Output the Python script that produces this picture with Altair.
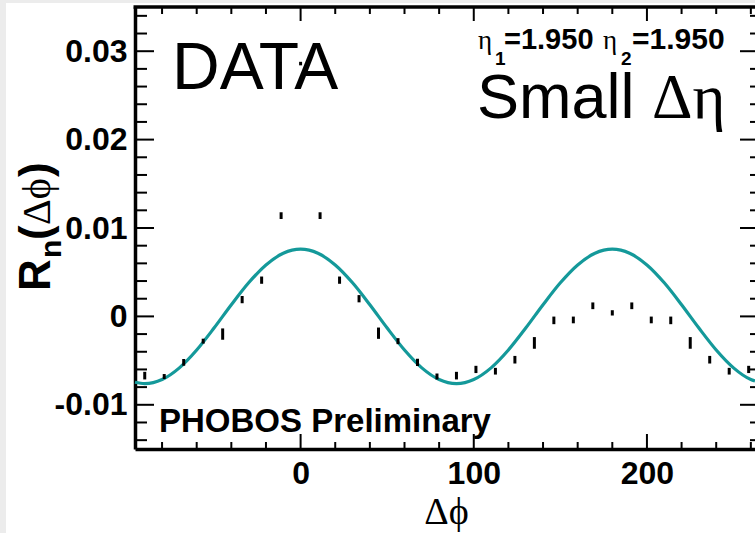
import altair as alt
import pandas as pd

# ---------------- data ----------------
dphi = [-90, -78.75, -67.5, -56.25, -45, -33.75, -22.5, -11.25, 0, 11.25, 22.5, 33.75,
        45, 56.25, 67.5, 78.75, 90, 101.25, 112.5, 123.75, 135, 146.25, 157.5, 168.75,
        180, 191.25, 202.5, 213.75, 225, 236.25, 247.5, 258.75]
rn = [-0.0067, -0.0068, -0.0052, -0.0028, -0.0020, 0.0019, 0.0041, 0.0114, 0.0286, 0.0114,
      0.0041, 0.0020, -0.0019, -0.0028, -0.0052, -0.0068, -0.0067, -0.0060, -0.0062, -0.0049,
      -0.0030, -0.00045, -0.0004, 0.0012, 0.0004, 0.0012, -0.0004, -0.00045, -0.0030, -0.0049,
      -0.0062, -0.0060]
err = [0.00043, 0.00028, 0.00038, 0.00028, 0.00064, 0.00041, 0.00041, 0.00038, 0.00020, 0.00038,
       0.00041, 0.00041, 0.00064, 0.00034, 0.00041, 0.00034, 0.00043, 0.00041, 0.00038, 0.00043,
       0.00066, 0.00043, 0.00038, 0.00038, 0.00030, 0.00038, 0.00038, 0.00043, 0.00066, 0.00043,
       0.00038, 0.00041]

fit_x = [-95.625, -90, -80, -70, -60, -50, -40, -30, -20, -10, 0, 10, 20, 30, 40, 50, 60, 70,
         80, 90, 100, 110, 120, 130, 140, 150, 160, 170, 180, 190, 200, 210, 220, 230, 240,
         250, 260, 262.4]
fit_y = [-0.00745, -0.0076, -0.00714, -0.00582, -0.0038, -0.00132, 0.00132, 0.0038, 0.00582,
         0.00714, 0.0076, 0.00714, 0.00582, 0.0038, 0.00132, -0.00132, -0.0038, -0.00582,
         -0.00714, -0.0076, -0.00714, -0.00582, -0.0038, -0.00132, 0.00132, 0.0038, 0.00582,
         0.00714, 0.0076, 0.00714, 0.00582, 0.0038, 0.00132, -0.00132, -0.0038, -0.00582,
         -0.00714, -0.00731]

x_major = [0, 100, 200]
x_minor = [-80, -60, -40, -20, 20, 40, 60, 80, 120, 140, 160, 180, 220, 240, 260]
y_major = [-0.01, 0.0, 0.01, 0.02, 0.03]
y_minor = [-0.014, -0.012, -0.008, -0.006, -0.004, -0.002, 0.002, 0.004, 0.006, 0.008,
           0.012, 0.014, 0.016, 0.018, 0.022, 0.024, 0.026, 0.028, 0.032, 0.034]

X_DOMAIN = [-95.625, 262.4]
Y_DOMAIN = [-0.015, 0.035]
W, H = 620, 442

# ---------------- tables ----------------
pts = pd.DataFrame({"dphi": dphi, "rn": rn, "err": err})
pts["lo"] = pts["rn"] - pts["err"]
pts["hi"] = pts["rn"] + pts["err"]
fit = pd.DataFrame({"dphi": fit_x, "rn": fit_y})
xmaj = pd.DataFrame({"t": x_major})
xmin = pd.DataFrame({"t": x_minor})
ymaj = pd.DataFrame({"t": y_major})
ymin = pd.DataFrame({"t": y_minor})
one = pd.DataFrame({"k": [0]})  # single row for decorations

xscale = alt.Scale(domain=X_DOMAIN, nice=False, zero=False)
yscale = alt.Scale(domain=Y_DOMAIN, nice=False, zero=False)

xaxis = alt.Axis(values=x_major, labelFont="Liberation Sans", labelFontWeight="bold",
                 labelFontSize=32, labelColor="black", ticks=False, tickSize=0,
                 labelPadding=9, labelFlush=False, labelOverlap=False,
                 domainColor="black", domainWidth=3.5, grid=False,
                 title="Δϕ", titleFont="Liberation Serif", titleFontSize=38,
                 titleFontWeight="normal", titleColor="black",
                 titleBaseline="alphabetic", titleY=74, titleX=311)
yaxis = alt.Axis(values=y_major, labelFont="Liberation Sans", labelFontWeight="bold",
                 labelFontSize=32, labelColor="black", ticks=False, tickSize=0,
                 labelPadding=8, labelFlush=False, labelOverlap=False,
                 labelBaseline="middle",
                 labelExpr="abs(datum.value) < 1e-9 ? '0' : (datum.value < 0 ? '-' : '') + format(abs(datum.value), '.2f')",
                 domainColor="black", domainWidth=3.5, grid=False, title=None)


def X(f):
    return alt.X(f, type="quantitative", scale=xscale, axis=xaxis)


def Y(f):
    return alt.Y(f, type="quantitative", scale=yscale, axis=yaxis)


# ---------------- layers ----------------
fit_line = alt.Chart(fit).mark_line(color="#14999a", strokeWidth=3.2, interpolate="monotone").encode(
    x=X("dphi"), y=Y("rn"))

bars = alt.Chart(pts).mark_rule(color="black", strokeWidth=3, strokeCap="butt").encode(
    x=X("dphi"), y=Y("lo"), y2="hi")

# frame ticks (pointing inward)
yl_maj = alt.Chart(ymaj).mark_rule(color="black", strokeWidth=2).encode(
    y=Y("t"), x=alt.value(0), x2=alt.value(19))
yl_min = alt.Chart(ymin).mark_rule(color="black", strokeWidth=2).encode(
    y=Y("t"), x=alt.value(0), x2=alt.value(12))
yr_maj = alt.Chart(ymaj).mark_rule(color="black", strokeWidth=2).encode(
    y=Y("t"), x=alt.value(W - 15), x2=alt.value(W))
yr_min = alt.Chart(ymin).mark_rule(color="black", strokeWidth=2).encode(
    y=Y("t"), x=alt.value(W - 5), x2=alt.value(W))
xb_maj = alt.Chart(xmaj).mark_rule(color="black", strokeWidth=2).encode(
    x=X("t"), y=alt.value(H), y2=alt.value(H - 15))
xb_min = alt.Chart(xmin).mark_rule(color="black", strokeWidth=2).encode(
    x=X("t"), y=alt.value(H), y2=alt.value(H - 7))
xt_maj = alt.Chart(xmaj).mark_rule(color="black", strokeWidth=2).encode(
    x=X("t"), y=alt.value(0), y2=alt.value(14))
xt_min = alt.Chart(xmin).mark_rule(color="black", strokeWidth=2).encode(
    x=X("t"), y=alt.value(0), y2=alt.value(7))

top_frame = alt.Chart(one).mark_rule(color="black", strokeWidth=3.5).encode(
    x=alt.value(-1.5), x2=alt.value(W), y=alt.value(0))

# grey page edge
edge_left = alt.Chart(one).mark_rect(color="#ececec").encode(
    x=alt.value(-135), x2=alt.value(-129), y=alt.value(-7), y2=alt.value(526))
edge_top = alt.Chart(one).mark_rect(color="#ececec").encode(
    x=alt.value(-135), x2=alt.value(W), y=alt.value(-7), y2=alt.value(-4))


def txt(s, x, y, size, font="Liberation Sans", weight="normal", angle=0):
    kw = dict(text=s, font=font, fontSize=size, fontWeight=weight, color="black",
              align="left", baseline="alphabetic")
    if angle:
        kw["angle"] = angle
    return alt.Chart(one).mark_text(**kw).encode(x=alt.value(x), y=alt.value(y))


annotations = [
    txt("DATA", 37, 82, 66),
    txt("Small", 342, 111, 63),
    txt("Δη", 517, 111, 63, font="Liberation Serif"),
    txt("η", 343, 42, 27, font="Liberation Serif"),
    txt("1", 360, 58, 19, weight="bold"),
    txt("=1.950", 369, 42, 29, weight="bold"),
    txt("η", 468, 42, 27, font="Liberation Serif"),
    txt("2", 486, 58, 19, weight="bold"),
    txt("=1.950", 497, 42, 30, weight="bold"),
    txt("PHOBOS Preliminary", 24, 425, 33, weight="bold"),
    # y-axis title, rotated
    txt("R", -85, 284, 44, weight="bold", angle=270),
    txt("n", -74, 251, 30, weight="bold", angle=270),
    txt("(", -85, 233, 44, weight="bold", angle=270),
    txt("Δϕ", -85, 218, 40, font="Liberation Serif", angle=270),
    txt(")", -85, 170, 44, weight="bold", angle=270),
]

chart = alt.layer(
    edge_left, edge_top,
    fit_line, bars,
    yl_maj, yl_min, yr_maj, yr_min, xb_maj, xb_min, xt_maj, xt_min,
    top_frame,
    *annotations,
).properties(
    width=W, height=H,
    padding={"left": 135, "top": 7, "right": 0, "bottom": 84},
    autosize=alt.AutoSizeParams(type="none"),
    background="white",
).configure_view(stroke=None)

chart.save("out.html", embed_options={"renderer": "svg", "actions": False})
